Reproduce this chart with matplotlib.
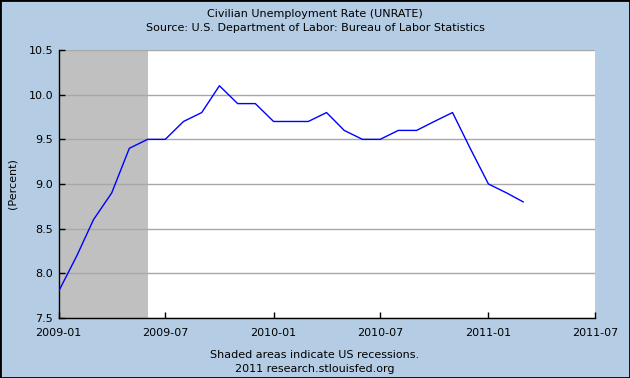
import datetime as dt
import matplotlib
matplotlib.use("Agg")
import matplotlib.pyplot as plt

# monthly UNRATE
MONTHS = ["2009-01", "2009-02", "2009-03", "2009-04", "2009-05", "2009-06",
          "2009-07", "2009-08", "2009-09", "2009-10", "2009-11", "2009-12",
          "2010-01", "2010-02", "2010-03", "2010-04", "2010-05", "2010-06",
          "2010-07", "2010-08", "2010-09", "2010-10", "2010-11", "2010-12",
          "2011-01", "2011-02", "2011-03"]
RATE = [7.8, 8.2, 8.6, 8.9, 9.4, 9.5,
        9.5, 9.7, 9.8, 10.1, 9.9, 9.9,
        9.7, 9.7, 9.7, 9.8, 9.6, 9.5,
        9.5, 9.6, 9.6, 9.7, 9.8, 9.4,
        9.0, 8.9, 8.8]
RECESSION = ("2009-01", "2009-06")
XTICKS = ["2009-01", "2009-07", "2010-01", "2010-07", "2011-01", "2011-07"]
YTICKS = [7.5, 8.0, 8.5, 9.0, 9.5, 10.0, 10.5]


def d(s):
    return dt.datetime.strptime(s, "%Y-%m")


BG = "#b4cde4"
fig = plt.figure(figsize=(6.3, 3.78), dpi=100, facecolor=BG)
ax = fig.add_axes([0.0932, 0.1587, 0.8512, 0.709])
ax.set_facecolor("white")

ax.axvspan(d(RECESSION[0]), d(RECESSION[1]), color="#c0c0c0", lw=0, zorder=0)
for y in YTICKS:
    ax.axhline(y, color="#a8a8a8", lw=1, zorder=1)
ax.plot([d(m) for m in MONTHS], RATE, color="#0000ff", lw=1, zorder=3)

ax.set_xlim(d(XTICKS[0]), d(XTICKS[-1]))
ax.set_ylim(7.5, 10.5)
ax.set_xticks([d(m) for m in XTICKS])
ax.set_xticklabels(XTICKS)
ax.set_yticks(YTICKS)
ax.set_yticklabels([f"{v:.1f}" for v in YTICKS])
ax.tick_params(direction="in", length=4, width=1, labelsize=8, colors="black", pad=4)
ax.tick_params(axis="x", pad=7)
for s in ("top", "right"):
    ax.spines[s].set_visible(False)
for s in ("left", "bottom"):
    ax.spines[s].set_color("black")
    ax.spines[s].set_linewidth(1)
ax.set_ylabel("(Percent)", fontsize=8, labelpad=8)

fig.text(0.5, 1 - 14 / 378, "Civilian Unemployment Rate (UNRATE)", ha="center", va="center", fontsize=8)
fig.text(0.5, 1 - 28 / 378, "Source: U.S. Department of Labor: Bureau of Labor Statistics",
         ha="center", va="center", fontsize=8)
fig.text(0.5, 1 - 355 / 378, "Shaded areas indicate US recessions.", ha="center", va="center", fontsize=8)
fig.text(0.5, 1 - 369 / 378, "2011 research.stlouisfed.org", ha="center", va="center", fontsize=8)

# thin black frame round the whole picture
fig.patches.append(plt.Rectangle((0, 0), 1, 1, transform=fig.transFigure, fill=False,
                                 edgecolor="black", lw=2))

fig.savefig("out.png", dpi=100, facecolor=fig.get_facecolor())
